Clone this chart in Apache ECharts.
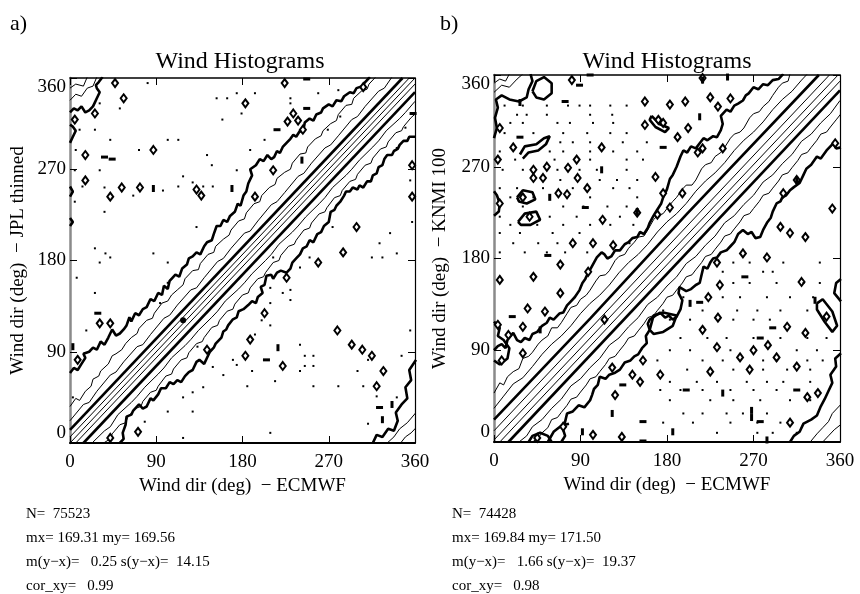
<!DOCTYPE html>
<html>
  <head>
    <meta charset="utf-8" />
    <title>Wind Histograms</title>
    <style>
      body { margin: 0; background: #fff; }
      #main { width: 860px; height: 594px; }
    </style>
  </head>
  <body>
    <div id="main"></div>
    <script src="https://cdn.jsdelivr.net/npm/echarts@6/dist/echarts.min.js"></script>
    <script>
      var FONT = "Liberation Serif";
      var axisTicks = [0, 90, 180, 270, 360];
      var statsA = ["N=  75523", "mx= 169.31 my= 169.56", "m(y\u2212x)=   0.25 s(y\u2212x)=  14.15", "cor_xy=   0.99"];
      var statsB = ["N=  74428", "mx= 169.84 my= 171.50", "m(y\u2212x)=   1.66 s(y\u2212x)=  19.37", "cor_xy=   0.98"];

      // ---- panel a) contours : JPL thinned vs ECMWF ----
      var aUpper3 = [[0,69],[4,74],[8,72],[12,78],[16,84],[14,88],[20,90],[24,94],[28,92],[32,100],[36,97],[40,104],[44,112],[48,106],[52,108],[56,112],[59,116],[62,124],[64,120],[68,128],[72,126],[76,132],[80,134],[84,142],[88,140],[92,148],[96,146],[98,155],[102,152],[104,160],[110,166],[114,164],[117,172],[122,176],[124,182],[128,184],[132,188],[136,186],[140,194],[143,198],[148,200],[150,206],[153,214],[157,214],[160,220],[164,218],[167,224],[172,228],[175,236],[178,234],[181,244],[184,248],[186,256],[190,264],[188,270],[194,274],[198,280],[202,278],[206,284],[210,280],[213,282],[216,288],[219,286],[222,292],[226,296],[230,300],[233,304],[236,302],[240,308],[243,306],[245,316],[250,320],[254,318],[257,324],[262,326],[264,330],[270,334],[274,332],[278,338],[283,337],[286,342],[292,346],[296,345],[299,350],[305,352],[308,356],[313,361]];
      var aUpper2 = [[0,36],[6,44],[10,42],[16,51],[22,56],[24,63],[30,66],[32,71],[40,78],[44,86],[48,88],[54,92],[58,98],[64,104],[70,108],[72,113],[80,121],[86,123],[88,128],[96,138],[102,140],[106,146],[112,151],[118,156],[120,162],[128,170],[134,171],[136,177],[144,186],[150,188],[152,194],[160,201],[166,205],[168,210],[176,219],[182,221],[184,227],[192,236],[198,238],[200,244],[208,252],[214,255],[216,261],[224,267],[230,270],[232,276],[240,285],[246,286],[248,292],[256,300],[262,303],[264,308],[272,315],[278,318],[280,324],[288,333],[294,334],[296,340],[304,347],[310,349],[312,354],[320,362]];
      var aUpper1 = [[0,22],[14,38],[20,40],[28,51],[42,67],[48,70],[56,80],[70,95],[76,97],[84,107],[98,123],[104,126],[112,136],[126,151],[132,153],[140,163],[154,179],[160,182],[168,192],[182,207],[188,209],[196,219],[210,235],[216,238],[224,247],[238,263],[244,266],[252,276],[266,291],[272,294],[280,303],[294,319],[300,322],[308,332],[322,347],[328,350],[336,361]];
      var aThickUp = [[0,13],[347,360]];
      var aThinUp = [[0,6],[354,360]];
      var aCenter = [[0,0],[360,360]];
      var aThinLo = [[6,0],[360,354]];
      var aThickLo = [[14,0],[360,346]];
      var aLower1 = [[23,0],[36,12],[42,16],[50,28],[64,40],[70,46],[78,55],[92,68],[98,74],[106,84],[120,96],[126,102],[134,111],[148,124],[154,130],[162,140],[176,152],[182,158],[190,167],[204,180],[210,186],[218,196],[232,208],[238,214],[246,223],[260,236],[266,242],[274,252],[288,264],[294,270],[302,279],[316,292],[322,298],[330,308],[344,320],[350,326],[360,337]];
      var aLower2 = [[35,0],[42,4],[44,9],[52,18],[58,20],[60,25],[68,34],[74,36],[76,41],[84,50],[90,52],[92,56],[100,66],[106,68],[108,73],[116,82],[122,84],[124,89],[132,98],[138,100],[140,104],[148,114],[154,116],[156,121],[164,130],[170,132],[172,137],[180,146],[186,148],[188,153],[196,162],[202,164],[204,168],[212,178],[218,180],[220,185],[228,194],[234,196],[236,200],[244,210],[250,212],[252,217],[260,226],[266,228],[268,232],[276,242],[282,244],[284,249],[292,258],[298,260],[300,265],[308,274],[314,276],[316,281],[324,290],[330,292],[332,297],[340,306],[346,308],[348,312],[356,321],[362,326]];
      var aLower3 = [[52,0],[56,4],[55,10],[58,18],[59,26],[64,28],[66,32],[72,38],[76,34],[80,36],[84,44],[87,42],[92,48],[95,54],[100,54],[104,60],[108,58],[112,62],[116,60],[120,66],[124,70],[128,72],[132,80],[135,82],[140,78],[144,86],[146,90],[150,94],[152,98],[158,104],[160,110],[163,112],[165,116],[170,122],[174,124],[176,130],[181,132],[186,136],[190,140],[194,138],[196,144],[201,148],[199,154],[203,156],[205,165],[210,166],[212,162],[216,168],[220,170],[226,168],[230,172],[232,178],[236,182],[240,186],[243,192],[247,194],[250,200],[254,198],[258,206],[262,208],[265,214],[270,218],[272,228],[276,230],[278,234],[282,238],[286,244],[288,248],[292,248],[295,252],[300,250],[302,254],[306,252],[310,258],[314,258],[316,264],[320,266],[322,272],[326,274],[328,280],[331,284],[336,284],[338,288],[342,290],[344,294],[348,298],[352,298],[354,302],[361,302]];
      var aCornerTL3 = [[0,326],[4,330],[8,328],[12,332],[16,326],[20,328],[24,332],[26,336],[28,340],[31,346],[28,350],[27,353],[30,356],[34,361]];
      var aCornerTL1 = [[0,338],[6,344],[12,342],[18,350],[24,352],[28,361]];
      var aCornerTL2 = [[0,350],[6,354],[14,352],[18,361]];
      var aCornerBR3 = [[316,0],[320,8],[326,6],[332,14],[338,12],[342,22],[340,30],[346,38],[352,44],[350,55],[356,62],[354,72],[361,82]];
      var aCornerBR1 = [[331,0],[338,6],[344,14],[352,20],[361,30]];
      var aCornerBR2 = [[345,0],[350,6],[356,10],[362,16]];
      var aEdge1 = [[0,296],[3,302],[6,308],[3,312],[0,314]];
      var aEdge2 = [[0,243],[3,248],[0,253]];
      var aEdge3 = [[0,214],[3,218],[0,222]];
      var aLoops = [[5,319],[26,325],[47,355],[56,340],[16,284],[87,289],[16,259],[42,243],[54,252],[73,252],[132,250],[137,244],[224,355],[183,335],[233,325],[238,318],[227,317],[243,309],[212,269],[193,243],[299,213],[285,188],[357,243],[357,274],[259,178],[226,163],[203,128],[188,102],[183,86],[222,76],[279,111],[294,97],[305,92],[315,86],[327,71],[320,56],[31,118],[42,118],[8,82],[71,11],[42,5],[143,92],[306,351]];
      var aDots = [[81,355],[153,340],[164,340],[174,345],[159,319],[52,330],[31,335],[10,309],[26,309],[42,299],[102,299],[113,299],[143,284],[6,289],[72,289],[148,274],[174,269],[5,269],[31,269],[118,263],[128,257],[139,253],[149,253],[113,253],[36,252],[13,253],[97,249],[66,244],[36,228],[5,238],[132,213],[26,192],[37,187],[87,187],[42,183],[193,345],[230,340],[259,345],[280,348],[179,325],[230,335],[203,299],[188,289],[282,322],[269,309],[341,291],[350,311],[355,259],[357,218],[334,207],[274,213],[323,197],[341,187],[212,183],[240,173],[250,183],[315,183],[209,153],[230,151],[222,148],[230,141],[209,138],[200,121],[209,116],[193,107],[174,77],[240,97],[245,86],[254,86],[245,76],[254,76],[240,71],[214,61],[190,71],[185,56],[254,56],[280,56],[306,56],[311,82],[300,71],[346,86],[355,111],[320,46],[341,45],[311,19],[209,10],[326,183],[102,178],[31,178],[7,163],[102,158],[26,148],[94,138],[17,111],[3,45],[118,45],[128,31],[102,31],[78,21],[118,5],[133,95],[149,75],[160,67],[139,55],[128,50],[170,82]];
      var aDashV = [[169,251],[87,251],[217,94],[336,38],[326,23],[242,279],[3,95]];
      var aDashH = [[36,282],[44,280],[205,82],[323,35],[247,330],[216,309],[358,325],[247,359],[29,128]];
      var aBlobs = [[118,121]];

      // ---- panel b) contours : KNMI 100 vs ECMWF ----
      var bUpper3 = [[0,90],[4,94],[8,96],[12,92],[14,100],[20,107],[24,100],[28,98],[32,102],[37,100],[40,106],[45,108],[50,114],[55,117],[58,122],[62,120],[68,126],[72,127],[76,134],[80,138],[84,142],[89,149],[92,156],[95,160],[98,166],[100,169],[104,176],[107,181],[112,186],[115,184],[118,180],[122,182],[126,188],[131,188],[136,194],[140,196],[144,200],[149,201],[152,206],[156,204],[160,210],[162,215],[166,222],[170,228],[174,234],[176,240],[180,248],[183,258],[186,262],[190,270],[194,280],[197,286],[201,284],[205,290],[210,288],[214,293],[218,298],[222,296],[228,300],[232,299],[236,306],[238,312],[236,320],[242,326],[246,324],[250,330],[254,332],[259,335],[262,340],[265,342],[270,348],[275,346],[280,351],[285,350],[290,355],[296,356],[301,361]];
      var bUpper2 = [[0,48],[6,58],[10,56],[14,64],[20,69],[26,72],[30,82],[36,84],[40,88],[46,96],[50,100],[56,104],[60,112],[66,112],[70,117],[76,126],[80,132],[86,134],[90,140],[96,144],[100,149],[106,158],[110,163],[116,164],[120,168],[126,178],[130,182],[136,184],[140,190],[146,196],[150,201],[156,202],[160,208],[166,218],[170,222],[176,224],[180,229],[186,236],[190,240],[196,248],[200,252],[206,252],[210,257],[216,268],[220,272],[226,274],[230,280],[236,284],[240,289],[246,298],[250,302],[256,304],[260,308],[266,318],[270,322],[276,324],[280,329],[286,334],[290,340],[296,348],[300,352],[306,354],[308,361]];
      var bUpper1 = [[0,33],[10,45],[20,57],[30,63],[40,74],[50,86],[60,96],[70,104],[80,114],[90,126],[100,136],[110,144],[120,154],[130,166],[140,176],[150,184],[160,194],[170,206],[180,216],[190,224],[200,234],[210,246],[220,256],[230,264],[240,274],[250,286],[260,296],[270,304],[280,314],[290,326],[300,336],[310,344],[320,355],[326,361]];
      var bThickUp = [[0,22],[100,121],[200,223],[338,360]];
      var bThinUp = [[0,11],[349,360]];
      var bCenter = [[0,2],[358,360]];
      var bThinLo = [[6,0],[360,354]];
      var bThickLo = [[15,0],[360,345]];
      var bLower1 = [[26,0],[34,6],[40,15],[50,22],[60,33],[70,42],[80,55],[90,62],[100,73],[110,82],[120,95],[130,102],[140,113],[150,122],[160,135],[170,142],[180,153],[190,162],[200,175],[210,182],[220,193],[230,202],[240,215],[250,222],[260,233],[270,242],[280,255],[290,262],[300,273],[310,282],[320,295],[330,302],[340,313],[350,322],[360,335]];
      var bLower2 = [[40,0],[46,4],[50,9],[56,14],[60,22],[66,24],[70,29],[76,36],[80,42],[86,44],[90,49],[96,56],[100,62],[106,64],[110,69],[116,76],[120,82],[126,84],[130,89],[136,96],[140,102],[146,104],[150,109],[156,116],[160,122],[166,124],[170,129],[176,136],[180,142],[186,144],[190,149],[196,156],[200,162],[206,164],[210,169],[216,176],[220,182],[226,184],[230,189],[236,196],[240,202],[246,204],[250,209],[256,216],[260,222],[266,224],[270,229],[276,236],[280,242],[286,244],[290,249],[296,256],[300,262],[306,264],[310,269],[316,276],[320,282],[326,284],[330,289],[336,296],[340,302],[346,304],[350,309],[356,316],[361,322]];
      var bLower3 = [[70,0],[74,6],[72,12],[74,20],[76,28],[82,30],[88,36],[94,34],[100,41],[102,46],[104,52],[108,56],[110,64],[116,62],[120,66],[126,68],[131,71],[136,78],[142,80],[146,84],[150,86],[154,92],[159,97],[158,104],[162,110],[160,116],[162,120],[168,124],[173,127],[178,122],[182,124],[186,120],[190,123],[194,130],[196,139],[192,146],[193,152],[200,148],[205,150],[210,154],[214,156],[216,164],[218,172],[222,170],[225,176],[228,180],[232,181],[236,186],[242,188],[246,192],[250,196],[254,204],[259,208],[264,204],[268,206],[272,200],[277,201],[280,208],[284,215],[288,220],[290,226],[294,234],[298,236],[300,240],[304,242],[308,247],[312,250],[318,254],[322,262],[325,268],[330,272],[336,280],[340,278],[346,286],[350,290],[353,293],[356,288],[361,289]];
      var bTL3 = [[0,298],[3,308],[1,318],[4,328],[2,336],[8,340],[16,336],[26,334],[34,338],[36,346],[40,354],[38,361]];
      var bTLloop = [[40,344],[44,354],[52,358],[60,352],[60,342],[52,336],[44,338],[40,344]];
      var bTL1 = [[0,343],[8,350],[16,348],[24,356],[30,361]];
      var bTL2 = [[0,352],[6,356],[12,354],[16,361]];
      var bBR3 = [[308,0],[312,6],[318,10],[322,18],[330,22],[336,26],[340,35],[344,42],[348,50],[352,58],[350,66],[356,74],[355,82],[361,87]];
      var bBR1 = [[329,0],[336,8],[342,14],[348,20],[352,28],[362,38]];
      var bBR2 = [[342,0],[348,6],[354,12],[362,18]];
      var bBL1 = [[36,0],[40,6],[48,9],[56,6],[60,0]];
      var bBL2 = [[56,0],[62,10],[70,16],[78,18]];
      var bBlob1 = [[27,282],[32,290],[44,292],[52,298],[58,300],[54,292],[46,286],[36,284],[30,278]];
      var bBlob2 = [[24,240],[30,247],[40,245],[43,238],[34,234],[26,236],[24,240]];
      var bBlob3 = [[25,216],[32,224],[44,226],[48,218],[38,213],[28,213],[25,216]];
      var bBlob4 = [[162,110],[166,124],[176,127],[190,124],[186,114],[176,108],[166,106],[162,110]];
      var bBlob5 = [[336,136],[342,140],[352,128],[357,114],[352,108],[344,118],[336,130],[336,136]];
      var bBlob6 = [[164,320],[172,312],[182,308],[178,304],[168,309],[162,316],[164,320]];
      var bEdge1 = [[0,222],[5,226],[6,234],[3,242],[0,246]];
      var bEdge2 = [[0,80],[6,76],[14,82],[16,92],[10,100],[4,104],[6,112],[0,118]];
      var bEdge3 = [[361,138],[354,146],[356,156],[361,160]];
      var bLoops = [[81,355],[157,334],[157,311],[171,316],[6,308],[20,289],[112,289],[4,277],[86,277],[55,270],[41,267],[41,259],[51,259],[77,269],[87,259],[168,260],[97,249],[67,244],[76,243],[30,240],[6,234],[37,221],[113,218],[149,225],[82,195],[103,195],[124,193],[183,331],[199,334],[225,338],[233,329],[246,337],[176,313],[202,308],[191,299],[217,288],[238,288],[212,284],[176,244],[196,244],[183,230],[170,223],[355,293],[352,229],[301,244],[315,257],[298,211],[308,205],[324,201],[217,357],[284,181],[259,185],[232,176],[320,157],[235,154],[223,142],[233,122],[217,110],[232,93],[256,83],[270,90],[285,95],[294,83],[266,71],[225,69],[173,66],[305,113],[324,107],[346,123],[315,74],[326,44],[337,48],[308,19],[69,174],[98,167],[41,162],[6,159],[35,131],[53,128],[69,146],[4,115],[30,113],[15,105],[30,87],[8,80],[155,80],[123,73],[144,66],[152,59],[126,46],[115,120],[133,5],[103,7],[72,15],[45,4]];
      var bDots = [[11,330],[30,330],[55,330],[77,330],[89,330],[100,330],[121,330],[138,330],[24,321],[34,321],[55,321],[100,321],[123,321],[17,313],[30,313],[66,313],[79,313],[103,313],[124,313],[11,303],[41,303],[72,303],[97,303],[121,303],[138,303],[69,294],[82,294],[100,294],[134,294],[159,294],[6,285],[58,285],[72,285],[100,285],[124,285],[149,285],[22,277],[63,277],[100,277],[138,277],[155,277],[9,267],[30,267],[66,267],[89,267],[107,267],[138,267],[69,257],[110,257],[128,257],[149,257],[6,249],[24,249],[51,249],[82,249],[124,249],[141,249],[17,240],[41,240],[100,240],[149,240],[30,231],[72,231],[93,231],[118,231],[138,231],[6,221],[58,221],[86,221],[131,221],[17,213],[45,213],[72,213],[100,213],[121,213],[145,213],[6,205],[27,205],[61,205],[89,205],[20,195],[46,195],[66,195],[141,195],[6,186],[32,186],[55,186],[74,186],[97,186],[249,176],[266,176],[301,176],[339,176],[238,167],[280,167],[290,167],[249,156],[266,156],[294,156],[322,156],[339,156],[197,142],[238,142],[256,142],[284,142],[308,142],[332,142],[176,129],[217,129],[253,129],[274,129],[298,129],[326,129],[183,120],[204,120],[249,120],[270,120],[287,120],[194,102],[222,102],[242,102],[270,102],[298,102],[326,102],[346,102],[183,90],[204,90],[246,90],[315,90],[336,90],[170,80],[217,80],[238,80],[280,80],[294,80],[326,80],[342,80],[201,71],[249,71],[280,71],[305,71],[329,71],[183,59],[211,59],[232,59],[263,59],[284,59],[301,59],[329,59],[173,51],[194,51],[217,51],[246,51],[270,51],[294,51],[183,41],[225,41],[249,41],[277,41],[308,41],[329,41],[197,28],[217,28],[242,28],[259,28],[284,28],[176,19],[207,19],[246,19],[274,19],[298,19],[232,9],[274,9],[290,9],[315,9]];
      var bDashV = [[334,139],[238,48],[268,31],[268,24],[186,10],[284,2],[204,136],[27,333],[112,267],[58,240],[149,226],[217,355],[214,319],[243,358],[315,257],[48,110],[123,28],[92,10]];
      var bDashH = [[261,162],[277,102],[200,51],[315,51],[277,20],[290,112],[214,137],[74,334],[89,350],[27,299],[95,230],[56,183],[100,360],[176,289],[19,123],[155,20],[155,1],[134,56]];

      var thickA = [aUpper3, aThickUp, aThickLo, aLower3, aCornerTL3, aCornerBR3, aEdge1, aEdge2, aEdge3];
      var thinA = [aUpper2, aUpper1, aThinUp, aCenter, aThinLo, aLower1, aLower2, aCornerTL1, aCornerTL2, aCornerBR1, aCornerBR2];
      var thickB = [bUpper3, bThickUp, bThickLo, bLower3, bTL3, bTLloop, bBR3, bBL1, bBL2, bBlob1, bBlob2, bBlob3, bBlob4, bBlob5, bBlob6, bEdge1, bEdge2, bEdge3];
      var thinB = [bUpper2, bUpper1, bThinUp, bCenter, bThinLo, bLower1, bLower2, bTL1, bTL2, bBR1, bBR2];

      var myChart = echarts.init(document.getElementById("main"));

      function contour(pts, g, w) {
        return {
          type: "line", xAxisIndex: g, yAxisIndex: g, data: pts,
          showSymbol: false, symbol: "none", clip: true, silent: true,
          lineStyle: { color: "#000", width: w, opacity: 1 }, z: 3
        };
      }
      function marks(pts, g, symbol, size, hollow) {
        return {
          type: "scatter", xAxisIndex: g, yAxisIndex: g, data: pts,
          symbol: symbol, symbolSize: size, clip: true, silent: true,
          itemStyle: hollow
            ? { color: "#fff", borderColor: "#000", borderWidth: 2, opacity: 1 }
            : { color: "#000", opacity: 1 },
          z: 4
        };
      }

      var series = [];
      thickA.forEach(function (p) { series.push(contour(p, 0, 2.6)); });
      thinA.forEach(function (p) { series.push(contour(p, 0, 1)); });
      thickB.forEach(function (p) { series.push(contour(p, 1, 2.6)); });
      thinB.forEach(function (p) { series.push(contour(p, 1, 1)); });
      series.push(marks(aLoops, 0, "diamond", [6, 8], true));
      series.push(marks(aDots, 0, "rect", 2, false));
      series.push(marks(aDashV, 0, "rect", [3, 7], false));
      series.push(marks(aDashH, 0, "rect", [7, 3], false));
      series.push(marks(aBlobs, 0, "circle", 6, false));
      series.push(marks(bLoops, 1, "diamond", [6, 8], true));
      series.push(marks(bDots, 1, "rect", 2, false));
      series.push(marks(bDashV, 1, "rect", [3, 7], false));
      series.push(marks(bDashH, 1, "rect", [7, 3], false));

      function xAx(g, top, name) {
        return {
          gridIndex: g, type: "value", min: 0, max: 360, interval: 90,
          position: top ? "top" : "bottom",
          axisLine: { onZero: false, lineStyle: { color: "#000", width: top ? 1.5 : 2 } },
          axisTick: { inside: true, length: 7, lineStyle: { color: "#000" } },
          axisLabel: {
            show: !top, margin: 10, color: "#000", fontFamily: FONT, fontSize: 19,
            formatter: function (v) { return axisTicks.indexOf(v) >= 0 ? String(v) : ""; }
          },
          splitLine: { show: false },
          name: top ? "" : name, nameLocation: "middle", nameGap: 32,
          nameTextStyle: { color: "#000", fontFamily: FONT, fontSize: 19 }
        };
      }
      function yAx(g, right, name, gap) {
        return {
          gridIndex: g, type: "value", min: 0, max: 360, interval: 90,
          position: right ? "right" : "left",
          axisLine: { onZero: false, lineStyle: { color: right ? "#000" : "#8a8a8a", width: right ? 1.2 : 2.5 } },
          axisTick: { inside: true, length: 7, lineStyle: { color: "#000" } },
          axisLabel: {
            show: !right, margin: 4, color: "#000", fontFamily: FONT, fontSize: 19,
            verticalAlignMinLabel: "bottom", verticalAlignMaxLabel: "top"
          },
          splitLine: { show: false },
          name: right ? "" : name, nameLocation: "middle", nameGap: gap,
          nameTextStyle: { color: "#000", fontFamily: FONT, fontSize: 19 }
        };
      }

      function txt(x, y, s, size, align) {
        return {
          type: "text", silent: true,
          style: { x: x, y: y, text: s, fill: "#000", font: size + "px '" + FONT + "'", align: align || "left", verticalAlign: "middle" }
        };
      }
      var graphic = [
        txt(10, 24, "a)", 22), txt(440, 24, "b)", 22),
        txt(240, 62, "Wind Histograms", 24, "center"),
        txt(667, 62, "Wind Histograms", 24, "center")
      ];
      statsA.forEach(function (s, i) { graphic.push(txt(26, 514 + i * 24, s, 15)); });
      statsB.forEach(function (s, i) { graphic.push(txt(452, 514 + i * 24, s, 15)); });

      var option = {
        animation: false,
        backgroundColor: "#fff",
        grid: [
          { left: 70, top: 78, width: 345, height: 365 },
          { left: 494, top: 75, width: 346, height: 367 }
        ],
        xAxis: [
          xAx(0, false, "Wind dir (deg)  \u2212 ECMWF"),
          xAx(1, false, "Wind dir (deg)  \u2212 ECMWF"),
          xAx(0, true), xAx(1, true)
        ],
        yAxis: [
          yAx(0, false, "Wind dir (deg)  \u2212 JPL thinned", 42),
          yAx(1, false, "Wind dir (deg)  \u2212 KNMI 100", 44),
          yAx(0, true), yAx(1, true)
        ],
        series: series,
        graphic: graphic
      };
      myChart.setOption(option);
    </script>
  </body>
</html>
